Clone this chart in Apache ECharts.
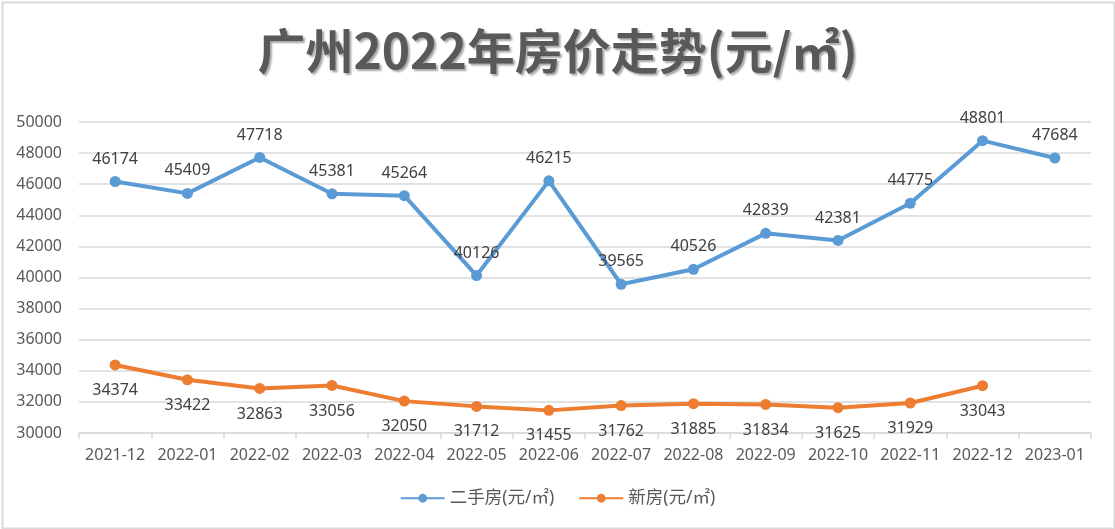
<!DOCTYPE html>
<html>
<head>
<meta charset="utf-8">
<script src="https://cdn.jsdelivr.net/npm/echarts@6/dist/echarts.min.js"></script>
<style>html,body{margin:0;padding:0;background:#fff}#c{width:1115px;height:529px}</style>
</head>
<body>
<div id="c"></div>
<script>
const categories = ['2021-12','2022-01','2022-02','2022-03','2022-04','2022-05','2022-06','2022-07','2022-08','2022-09','2022-10','2022-11','2022-12','2023-01'];
const secondHand = [46174,45409,47718,45381,45264,40126,46215,39565,40526,42839,42381,44775,48801,47684];
const newHouse = [34374,33422,32863,33056,32050,31712,31455,31762,31885,31834,31625,31929,33043,null];
const yTicks = {min:30000, max:50000, interval:2000};

const FONT = "'Noto Sans', 'Noto Sans CJK SC', sans-serif";
const chart = echarts.init(document.getElementById('c'));
chart.setOption({
  backgroundColor:'#fff',
  animation:false,
  title:{
    text:'广州2022年房价走势(元/㎡)',
    left:'center', top:22,
    textStyle:{fontFamily:"'Noto Sans CJK SC', sans-serif", fontSize:48, fontWeight:'bold', color:'#595959',
      textShadowColor:'rgba(0,0,0,0.35)', textShadowOffsetX:2, textShadowOffsetY:2, textShadowBlur:2}
  },
  legend:{
    bottom:17, left:'center', itemWidth:44, itemHeight:11, itemGap:24,
    textStyle:{fontFamily:FONT, fontSize:17.5, color:'#595959'},
    data:['二手房(元/㎡)','新房(元/㎡)']
  },
  grid:{left:79, right:24, top:122, bottom:96},
  xAxis:{
    type:'category', data:categories, boundaryGap:true,
    axisLine:{lineStyle:{color:'#D9D9D9', width:1.5}},
    axisTick:{show:true, length:6, lineStyle:{color:'#D9D9D9', width:1.5}},
    axisLabel:{fontFamily:FONT, fontSize:16, color:'#595959', margin:14, interval:0}
  },
  yAxis:{
    type:'value', min:yTicks.min, max:yTicks.max, interval:yTicks.interval,
    axisLine:{show:false}, axisTick:{show:false},
    splitLine:{lineStyle:{color:'#D9D9D9', width:1.5}},
    axisLabel:{fontFamily:FONT, fontSize:16, color:'#595959', margin:17, formatter:v => String(v)}
  },
  series:[
    {name:'二手房(元/㎡)', type:'line', data:secondHand, symbol:'circle', symbolSize:11,
      lineStyle:{color:'#5B9BD5', width:4}, itemStyle:{color:'#5B9BD5'},
      label:{show:true, position:'top', distance:9, fontFamily:FONT, fontSize:16, color:'#404040'}},
    {name:'新房(元/㎡)', type:'line', data:newHouse, symbol:'circle', symbolSize:11,
      lineStyle:{color:'#ED7D31', width:4}, itemStyle:{color:'#ED7D31'},
      label:{show:true, position:'bottom', distance:12, fontFamily:FONT, fontSize:16, color:'#404040'}}
  ],
  graphic:[{type:'rect', left:0, top:0, shape:{x:1, y:1, width:1112, height:526},
    style:{fill:null, stroke:'#D9D9D9', lineWidth:2}, silent:true, z:-1}]
});
</script>
</body>
</html>
